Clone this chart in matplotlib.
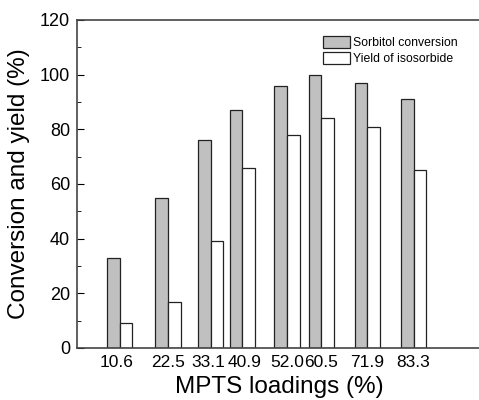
import matplotlib
matplotlib.use("Agg")
import matplotlib.pyplot as plt
import matplotlib.transforms as mtransforms
from matplotlib.ticker import MultipleLocator

loadings = [10.6, 22.5, 33.1, 40.9, 52.0, 60.5, 71.9, 83.3]
tick_labels = ["10.6", "22.5", "33.1", "40.9", "52.0", "60.5", "71.9", "83.3"]
conversion = [33, 55, 76, 87, 96, 100, 97, 91]
yield_iso = [9, 17, 39, 66, 78, 84, 81, 65]

plt.rcParams["font.family"] = ["Liberation Sans", "DejaVu Sans"]

fig = plt.figure(figsize=(4.79, 4.0), dpi=100)
# right spine falls just outside the canvas, as in the original crop
ax = fig.add_axes([77 / 479, 52 / 400, 404 / 479, 328 / 400])

w = 3.13
ax.bar([x - w / 2 for x in loadings], conversion, width=w, color="#c0c0c0",
       edgecolor="#222222", linewidth=0.9, label="Sorbitol conversion")
ax.bar([x + w / 2 for x in loadings], yield_iso, width=w, color="white",
       edgecolor="#222222", linewidth=0.9, label="Yield of isosorbide")

ax.set_xlim(0, 100)
ax.set_ylim(0, 120)
ax.set_xticks(loadings)
ax.set_xticklabels(tick_labels)
ax.yaxis.set_major_locator(MultipleLocator(20))
ax.yaxis.set_minor_locator(MultipleLocator(10))
ax.tick_params(axis="x", length=0, labelsize=12.5, pad=5)
ax.tick_params(axis="y", which="major", direction="in", length=5, labelsize=13, pad=5)
ax.tick_params(axis="y", which="minor", direction="in", length=3)

# the crowded pair of labels sits slightly apart in the original
nudge = {"10.6": -3, "33.1": -2.5, "40.9": 2.5}
for lab in ax.get_xticklabels():
    dx = nudge.get(lab.get_text(), 0)
    if dx:
        lab.set_transform(lab.get_transform() +
                          mtransforms.ScaledTranslation(dx / 100, 0, fig.dpi_scale_trans))

for s in ax.spines.values():
    s.set_color("#444444")
    s.set_linewidth(1.2)
ax.spines["right"].set_visible(False)

ax.set_xlabel("MPTS loadings (%)", fontsize=17.5, labelpad=4)
ax.set_ylabel("Conversion and yield (%)", fontsize=17.5, labelpad=7)

ax.legend(loc="upper left", bbox_to_anchor=(0.59, 0.975), frameon=False,
          fontsize=8.8, handlelength=2.2, handleheight=1.25,
          handletextpad=0.3, labelspacing=0.2, borderaxespad=0.2)

fig.savefig("out.png", dpi=100, facecolor="white")
